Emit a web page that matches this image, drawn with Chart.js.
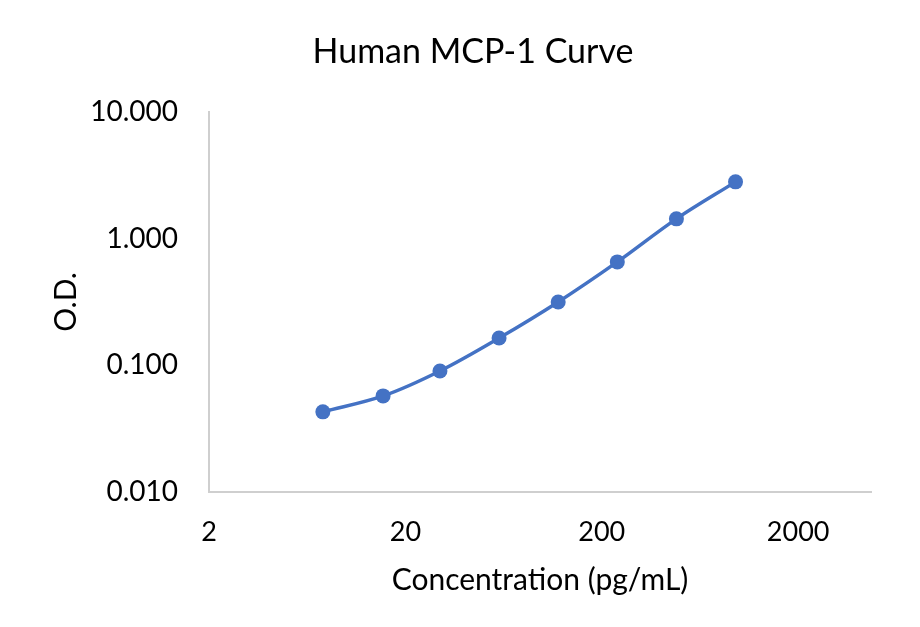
<!DOCTYPE html>
<html>
<head>
<meta charset="utf-8">
<script src="https://cdn.jsdelivr.net/npm/chart.js@4/dist/chart.umd.min.js"></script>
<style>
  html, body { margin: 0; padding: 0; background: #ffffff; }
  #wrap { width: 920px; height: 627px; position: relative; }
</style>
</head>
<body>
<div id="wrap"><canvas id="c" width="920" height="627"></canvas></div>
<script>
const chartTitle = "Human MCP-1 Curve";
const xAxisTitle = "Concentration (pg/mL)";
const yAxisTitle = "O.D.";
const concentrations = [7.6, 15.4, 30, 60, 120, 240, 480, 960];
const odValues = [0.0429, 0.0573, 0.0902, 0.164, 0.316, 0.654, 1.43, 2.80];
const xTicks = [2, 20, 200, 2000];
const yTicks = [0.01, 0.1, 1, 10];
const xRange = [2, 4700];
const yRange = [0.01, 10];

const blue = "#4472C4";
const fontFamily = "Lato, 'Open Sans', sans-serif";

const points = concentrations.map((c, i) => ({ x: c, y: odValues[i] }));

const titleShift = {
  id: "titleShift",
  afterLayout(chart) {
    if (chart.titleBlock) {
      chart.titleBlock.left = 26;
      chart.titleBlock.right = 920;
    }
  }
};

new Chart(document.getElementById("c"), {
  type: "scatter",
  data: {
    datasets: [{
      data: points,
      showLine: true,
      borderColor: blue,
      backgroundColor: blue,
      borderWidth: 3.5,
      tension: 0.35,
      pointRadius: 7.5,
      pointBorderWidth: 0,
      pointBackgroundColor: blue,
      pointBorderColor: blue
    }]
  },
  options: {
    responsive: false,
    animation: false,
    devicePixelRatio: 1,
    layout: { padding: { left: 0, right: 49, top: 0, bottom: 0 } },
    plugins: {
      legend: { display: false },
      tooltip: { enabled: false },
      title: {
        display: true,
        text: chartTitle,
        color: "#000000",
        font: { family: fontFamily, size: 34, weight: "normal" },
        padding: { top: 32, bottom: 39 }
      }
    },
    scales: {
      x: {
        type: "logarithmic",
        min: xRange[0],
        max: xRange[1],
        afterBuildTicks(scale) { scale.ticks = xTicks.map(v => ({ value: v })); },
        afterFit(scale) { scale.height = 135; },
        grid: { display: false, drawTicks: false },
        border: { display: true, color: "#CFCFCF", width: 2 },
        ticks: {
          color: "#000000",
          font: { family: fontFamily, size: 27 },
          padding: 24,
          maxRotation: 0,
          autoSkip: false,
          callback: (v) => String(v)
        },
        title: {
          display: true,
          text: xAxisTitle,
          color: "#000000",
          font: { family: fontFamily, size: 30 },
          padding: { top: 0, bottom: 29 }
        }
      },
      y: {
        type: "logarithmic",
        min: yRange[0],
        max: yRange[1],
        afterBuildTicks(scale) { scale.ticks = yTicks.map(v => ({ value: v })); },
        afterFit(scale) { scale.width = 209; },
        grid: { display: false, drawTicks: false },
        border: { display: true, color: "#CFCFCF", width: 2 },
        ticks: {
          color: "#000000",
          font: { family: fontFamily, size: 28 },
          padding: 31,
          autoSkip: false,
          callback: (v) => Number(v).toFixed(3)
        },
        title: {
          display: true,
          text: yAxisTitle,
          color: "#000000",
          font: { family: fontFamily, size: 30 },
          padding: { top: 48, bottom: 0 }
        }
      }
    }
  },
  plugins: [titleShift]
});
</script>
</body>
</html>
